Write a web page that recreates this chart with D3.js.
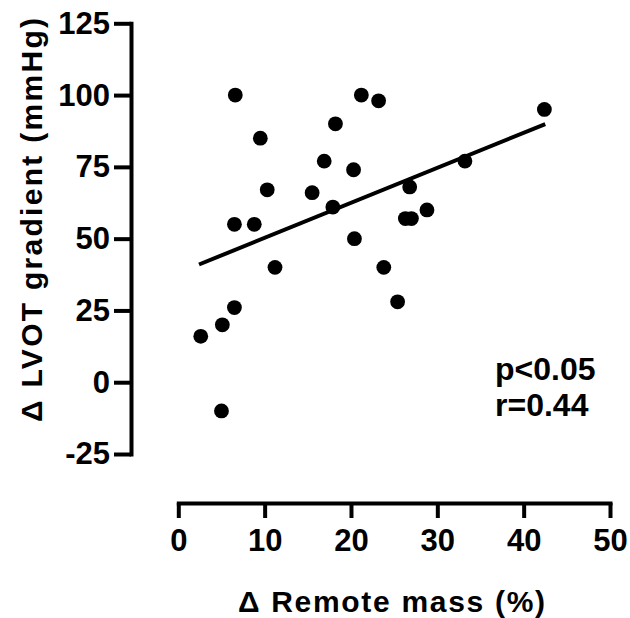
<!DOCTYPE html>
<html>
<head>
<meta charset="utf-8">
<script src="https://cdn.jsdelivr.net/npm/d3@7"></script>
<style>
  html, body { margin: 0; padding: 0; background: #fff; }
  text { font-family: "Liberation Sans", Arial, sans-serif; font-weight: bold; fill: #000; }
</style>
</head>
<body>
<svg id="chart" width="630" height="618"></svg>
<script>
// ---- data ----
const remoteMass = [6.6, 9.5, 16.9, 10.3, 15.5, 17.9, 6.5, 8.8, 21.2, 23.2, 18.2, 20.3, 26.8, 33.2, 26.3, 27.0, 28.8, 20.4, 42.4, 11.2, 23.8, 25.4, 6.5, 5.1, 2.6, 5.0];
const lvotGradient = [100, 85, 77, 67, 66, 61, 55, 55, 100, 98, 90, 74, 68, 77, 57, 57, 60, 50, 95, 40, 40, 28, 26, 20, 16, -10];
const fitX = [2.4, 42.5];
const fitY = [41.0, 89.9];
const xTicks = [0, 10, 20, 30, 40, 50];
const yTicks = [-25, 0, 25, 50, 75, 100, 125];
const statLines = ["p<0.05", "r=0.44"];
const xTitle = "\u0394 Remote mass (%)";
const yTitle = "\u0394 LVOT gradient (mmHg)";

// ---- chart ----
const svg = d3.select("#chart");
const x = d3.scaleLinear().domain([0, 50]).range([178.3, 610]);
const y = d3.scaleLinear().domain([-25, 125]).range([454, 23.3]);
const yAxisX = 131;
const xAxisY = 503;
const fmt = d => String(d);

const yAxis = svg.append("g")
  .attr("transform", `translate(${yAxisX},0)`)
  .call(d3.axisLeft(y).tickValues(yTicks).tickSize(17).tickSizeOuter(0).tickPadding(4).tickFormat(fmt));
const xAxis = svg.append("g")
  .attr("transform", `translate(0,${xAxisY})`)
  .call(d3.axisBottom(x).tickValues(xTicks).tickSize(15).tickSizeOuter(0).tickPadding(11).tickFormat(fmt));

[yAxis, xAxis].forEach(g => {
  g.select(".domain").attr("stroke", "#000").attr("stroke-width", 4).attr("stroke-linecap", "square");
  g.selectAll(".tick line").attr("stroke", "#000").attr("stroke-width", 4);
  g.selectAll(".tick text").style("font-size", "31px").attr("fill", "#000");
});

// regression line
const pts = fitX.map((v, i) => [v, fitY[i]]);
svg.append("path")
  .attr("d", d3.line().x(d => x(d[0])).y(d => y(d[1]))(pts))
  .attr("stroke", "#000").attr("stroke-width", 4).attr("fill", "none");

// points
svg.append("g").selectAll("circle")
  .data(remoteMass.map((v, i) => [v, lvotGradient[i]]))
  .join("circle")
  .attr("cx", d => x(d[0])).attr("cy", d => y(d[1]))
  .attr("r", 7.4).attr("fill", "#000");

// titles
svg.append("text")
  .attr("transform", "translate(42,220) rotate(-90)")
  .attr("text-anchor", "middle")
  .attr("textLength", 404).attr("lengthAdjust", "spacing")
  .style("font-size", "30px")
  .text(yTitle);
svg.append("text")
  .attr("x", 391.5).attr("y", 612)
  .attr("text-anchor", "middle")
  .attr("textLength", 307).attr("lengthAdjust", "spacing")
  .style("font-size", "30px")
  .text(xTitle);

// stats
svg.append("g").selectAll("text")
  .data(statLines)
  .join("text")
  .attr("x", 495).attr("y", (d, i) => 380 + i * 36)
  .style("font-size", "32px")
  .text(d => d);
</script>
</body>
</html>
